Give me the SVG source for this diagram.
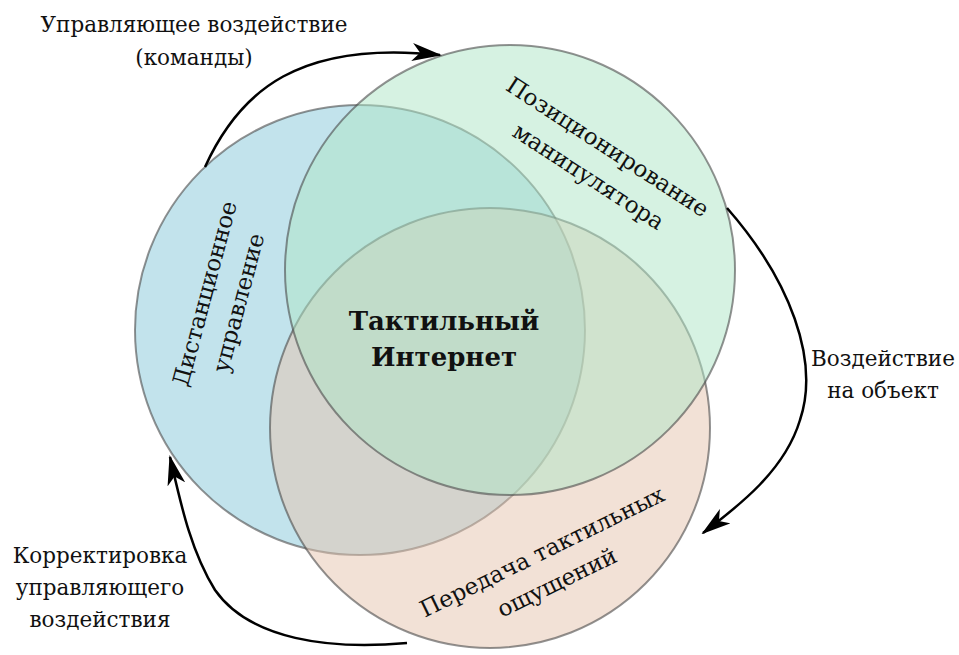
<svg xmlns="http://www.w3.org/2000/svg" width="959" height="655" viewBox="0 0 959 655">
<style>
.c{stroke:#4a4a4a;stroke-opacity:0.6;stroke-width:2;fill-opacity:0.5}
.t{font-family:"DejaVu Serif","Liberation Serif",serif;font-size:21.5px;fill:#111;text-anchor:middle}
.l{font-size:23px}
.b{font-weight:bold;font-size:26px}
.a{fill:none;stroke:#000;stroke-width:2.5;marker-end:url(#ah)}
</style>
<defs>
<marker id="ah" viewBox="0 0 30 18" refX="28" refY="9" markerWidth="30" markerHeight="18" markerUnits="userSpaceOnUse" orient="auto">
<path d="M0,0 L30,9 L0,18 L8,9 z" fill="#000"/>
</marker>
</defs>
<rect width="959" height="655" fill="#fff"/>
<g id="remote">
<circle class="c" cx="360" cy="330" r="225" fill="#85c7d9"/>
</g>
<g id="tactile">
<circle class="c" cx="490" cy="428" r="220" fill="#e5c3ad"/>
</g>
<g id="position">
<circle class="c" cx="510" cy="270" r="225" fill="#ade5c5"/>
</g>
<g id="labels-circles">
<g transform="translate(221,298) rotate(-75)">
<text class="t l" x="0" y="-9">Дистанционное</text>
<text class="t l" x="0" y="26">управление</text>
</g>
<g transform="translate(598,162) rotate(33)">
<text class="t l" x="0" y="-10">Позиционирование</text>
<text class="t l" x="0" y="25">манипулятора</text>
</g>
<g transform="translate(549,566) rotate(-26)">
<text class="t l" x="0" y="-8">Передача тактильных</text>
<text class="t l" x="0" y="26">ощущений</text>
</g>
</g>
<g id="center">
<text class="t b" x="444" y="330">Тактильный</text>
<text class="t b" x="444" y="366">Интернет</text>
</g>
<g id="connectors">
<path class="a" d="M205,167 C240,90 300,40 440,55"/>
<path class="a" d="M727,208 C790,280 820,360 800,420 C785,470 740,505 703,533"/>
<path class="a" d="M407,643 C330,650 250,640 215,590 C190,550 180,500 170,457"/>
</g>
<g id="connector-labels">
<text class="t" x="194" y="32">Управляющее воздействие</text>
<text class="t" x="194" y="65">(команды)</text>
<text class="t" x="883" y="366">Воздействие</text>
<text class="t" x="883" y="398">на объект</text>
<text class="t" x="100" y="563">Корректировка</text>
<text class="t" x="100" y="595">управляющего</text>
<text class="t" x="100" y="627">воздействия</text>
</g>
</svg>
